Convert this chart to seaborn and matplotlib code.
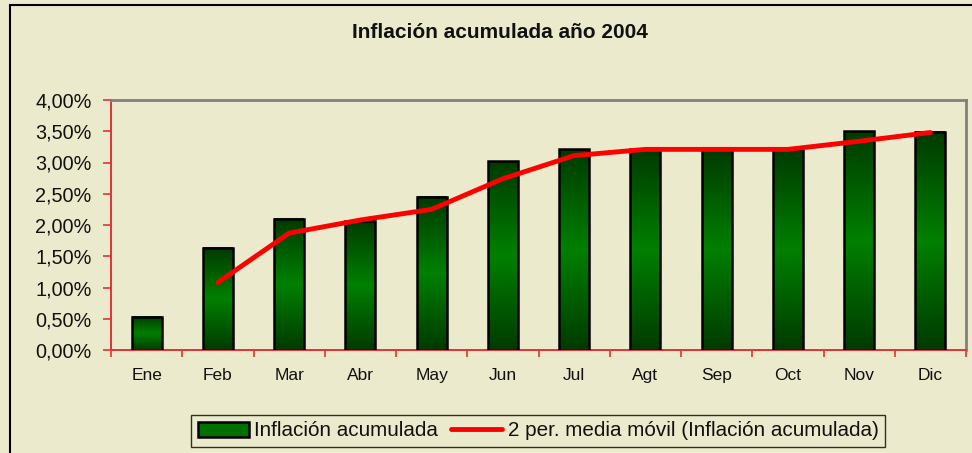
#!/usr/bin/env python3
"""Inflación acumulada 2004: bars with 2-period moving average."""

import matplotlib as mpl
import matplotlib.pyplot as plt
import numpy as np
import pandas as pd
import seaborn as sns
from matplotlib.lines import Line2D
from matplotlib.patches import Patch, Rectangle
from matplotlib.ticker import FixedLocator, FuncFormatter

mpl.use('Agg')

MONTHS = ["Ene", "Feb", "Mar", "Abr", "May", "Jun",
          "Jul", "Agt", "Sep", "Oct", "Nov", "Dic"]
INFLATION = [0.53, 1.64, 2.10, 2.07, 2.45, 3.02,
             3.21, 3.21, 3.21, 3.21, 3.50, 3.49]
MOVING_AVG = [np.nan, 1.08, 1.87, 2.08, 2.25, 2.74,
              3.11, 3.21, 3.21, 3.21, 3.34, 3.48]
TITLE = "Inflación acumulada año 2004"
BAR_LABEL = "Inflación acumulada"
LINE_LABEL = "2 per. media móvil (Inflación acumulada)"

BG = "#ECEACC"
AXIS_RED = "#E03434"

sns.set_theme(style="white")
plt.rcParams['font.family'] = ['Liberation Sans', 'DejaVu Sans']


def shade_bars(ax):
    """Replace flat bar fill with a dark-bright-dark vertical gradient."""
    cmap = mpl.colors.LinearSegmentedColormap.from_list(
        "grn", ["#003A00", "#008000", "#003A00"])
    grad = np.linspace(0, 1, 256).reshape(-1, 1)
    for p in ax.patches:
        x0, y0 = p.get_x(), p.get_y()
        w, h = p.get_width(), p.get_height()
        ax.imshow(grad, cmap=cmap, aspect="auto", origin="lower",
                  extent=(x0, x0 + w, y0, y0 + h), zorder=2)
        p.set_facecolor("none")
        p.set_zorder(3)


def main():
    df = pd.DataFrame({"month": MONTHS, "value": INFLATION,
                       "ma": MOVING_AVG, "pos": range(len(MONTHS))})

    fig = plt.figure(figsize=(9.72, 4.53), dpi=100, facecolor=BG)
    ax = fig.add_axes([111/972, 103/453, 855/972, 250/453], facecolor=BG)

    sns.barplot(data=df, x="month", y="value", width=0.42, color="#007000",
                edgecolor="black", linewidth=1.8, ax=ax)
    shade_bars(ax)
    sns.lineplot(data=df, x="pos", y="ma", color="#FF0000", linewidth=3.5,
                 ax=ax, zorder=4)

    # Axes
    n = len(MONTHS)
    ax.set_xlim(-0.5, n - 0.5)
    ax.set_ylim(0, 4)
    ax.set(xlabel="", ylabel="")
    ax.set_yticks(np.arange(0, 4.01, 0.5))
    ax.yaxis.set_major_formatter(
        FuncFormatter(lambda v, _: f"{v:.2f}".replace(".", ",") + "%"))
    ax.xaxis.set_major_locator(FixedLocator(np.arange(-0.5, n, 1)))
    ax.xaxis.set_major_formatter(FuncFormatter(lambda v, _: ""))
    ax.xaxis.set_minor_locator(FixedLocator(np.arange(n)))
    ax.xaxis.set_minor_formatter(FuncFormatter(lambda v, _: MONTHS[int(round(v))]))
    ax.tick_params(axis="x", which="major", direction="out", length=5,
                   width=1.2, color=AXIS_RED, bottom=True)
    ax.tick_params(axis="x", which="minor", length=0, pad=13,
                   labelsize=12.5, colors="#111111", bottom=True)
    ax.tick_params(axis="y", direction="out", length=6, width=1.2,
                   color=AXIS_RED, pad=8, labelsize=14.3, labelcolor="#111111",
                   left=True)
    for side in ["left", "bottom"]:
        ax.spines[side].set_color(AXIS_RED)
        ax.spines[side].set_linewidth(1.4)
    for side in ["top", "right"]:
        ax.spines[side].set_color("#808080")
        ax.spines[side].set_linewidth(2)
    ax.grid(False)

    # Title
    fig.text(0.514, 0.929, TITLE, ha="center", va="center",
             fontsize=15, fontweight="bold", color="#111111")

    # Legend
    handles = [Patch(facecolor="#007000", edgecolor="black", linewidth=1.8),
               Line2D([0], [0], color="#FF0000", linewidth=3.5)]
    leg = fig.legend(handles, [BAR_LABEL, LINE_LABEL], loc="center",
                     bbox_to_anchor=(538/972, 22/453), ncol=2, fontsize=14.9,
                     frameon=True, fancybox=False, handlelength=2.5,
                     handleheight=0.7, handletextpad=0.25, columnspacing=0.6,
                     borderpad=0.3, borderaxespad=0)
    frame = leg.get_frame()
    frame.set_edgecolor("black")
    frame.set_facecolor(BG)
    frame.set_linewidth(1.0)
    for t in leg.get_texts():
        t.set_color("#111111")

    # Outer chart border (only left and top visible in the crop)
    fig.patches.append(Rectangle((10/972, -0.1), 1.2, 0.1 + 448/453,
                                 transform=fig.transFigure, fill=False,
                                 edgecolor="black", linewidth=1.5))

    fig.savefig("out.png", dpi=100, facecolor=BG)
    plt.close(fig)


if __name__ == '__main__':
    main()
